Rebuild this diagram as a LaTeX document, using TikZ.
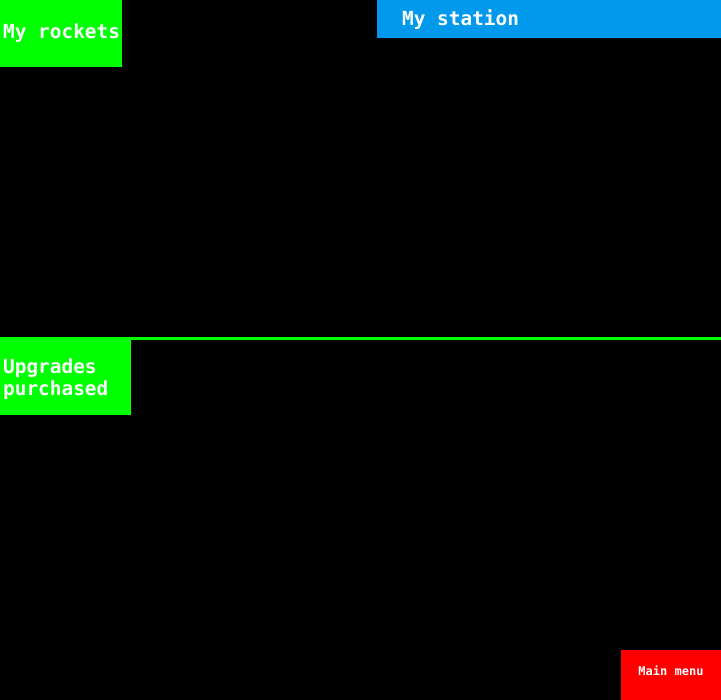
\documentclass[tikz,border=0pt]{standalone}
\usepackage{fontspec}
\newfontfamily\pix{DejaVu Sans Mono}
\definecolor{pgreen}{RGB}{0,255,0}
\definecolor{pblue}{RGB}{0,153,235}
\definecolor{pred}{RGB}{255,0,0}
\begin{document}
\begin{tikzpicture}[x=1pt,y=-1pt,
  lbl/.style={text=white,font=\pix\bfseries\fontsize{19.4}{22}\selectfont,inner sep=0pt,anchor=west,align=left},
  small/.style={text=white,font=\pix\bfseries\fontsize{12}{14}\selectfont,inner sep=0pt}]
\fill[black] (0,0) rectangle (721,700);
\useasboundingbox (0,0) rectangle (721,700);
\fill[pgreen] (0,0) rectangle (122,67);
\node[lbl] (rockets) at (3,33) {My rockets};
\fill[pblue] (377,0) rectangle (721,38);
\node[lbl] (station) at (402,20) {My station};
\fill[pgreen] (0,337) rectangle (721,340);
\fill[pgreen] (0,337) rectangle (131,415);
\node[lbl] (upgrades) at (3,379) {Upgrades\\purchased};
\fill[pred] (621,650) rectangle (721,700);
\node[small] (menu) at (671,671) {Main menu};
\end{tikzpicture}
\end{document}
